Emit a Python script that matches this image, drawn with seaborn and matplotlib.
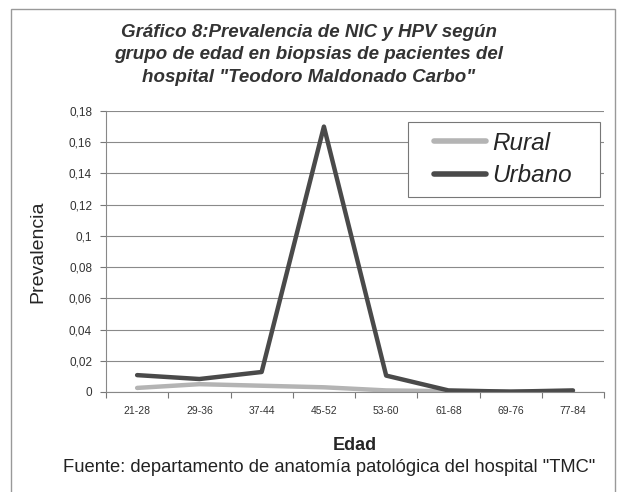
import pandas as pd
import seaborn as sns
import matplotlib.pyplot as plt
from matplotlib.patches import Rectangle
from matplotlib.ticker import FuncFormatter

# age groups and prevalence
edades = ['21-28', '29-36', '37-44', '45-52', '53-60', '61-68', '69-76', '77-84']
rural = [0.0026, 0.0050, 0.0040, 0.0030, 0.0010, 0.0005, 0.0003, 0.0005]
urbano = [0.0108, 0.0083, 0.0128, 0.1700, 0.0105, 0.0010, 0.0002, 0.0010]
yticks = [0, 0.02, 0.04, 0.06, 0.08, 0.10, 0.12, 0.14, 0.16, 0.18]

df = pd.DataFrame({
    'Edad': edades * 2,
    'Prevalencia': rural + urbano,
    'Zona': ['Rural'] * len(edades) + ['Urbano'] * len(edades),
})
df['pos'] = list(range(len(edades))) * 2

sns.set_style('white')
plt.rcParams['font.family'] = ['Liberation Sans', 'DejaVu Sans']

fig = plt.figure(figsize=(6.18, 4.92), dpi=100)
ax = fig.add_axes([0.1715, 0.2033, 0.806, 0.5711])

sns.lineplot(data=df, x='pos', y='Prevalencia', hue='Zona',
             palette={'Rural': '#b4b4b4', 'Urbano': '#4a4a4a'},
             linewidth=3.2, sort=False, ax=ax)

ax.set_xlim(-0.5, len(edades) - 0.5)
ax.set_ylim(0, 0.18)
ax.set_yticks(yticks)
ax.yaxis.set_major_formatter(FuncFormatter(lambda v, p: ('%g' % round(v, 2)).replace('.', ',')))
ax.set_xticks([i + 0.5 for i in range(-1, len(edades))])
ax.set_xticklabels([])
ax.set_xticks(range(len(edades)), minor=True)
ax.set_xticklabels(edades, minor=True, fontsize=7.5, color='#333333')
ax.tick_params(axis='x', which='major', length=4, direction='out', color='#777777', bottom=True)
ax.tick_params(axis='x', which='minor', length=0, pad=10)
ax.tick_params(axis='y', length=4, direction='out', color='#777777', left=True,
               labelsize=8.5, labelcolor='#333333', pad=6)
ax.grid(axis='y', color='#8a8a8a', linewidth=0.8)
for s in ['top', 'right']:
    ax.spines[s].set_visible(False)
for s in ['left', 'bottom']:
    ax.spines[s].set_color('#888888')
    ax.spines[s].set_linewidth(0.8)

ax.set_xlabel('Edad', fontsize=13, fontweight='bold', labelpad=15)
ax.set_ylabel('Prevalencia', fontsize=14, labelpad=16)

# legend without its own frame, box drawn separately to get Excel-like padding
leg = ax.legend(loc='upper left', bbox_to_anchor=(0.658, 0.927), borderaxespad=0,
                frameon=False, prop={'style': 'italic', 'size': 17.5},
                handlelength=2.15, borderpad=0, labelspacing=0.4, handletextpad=0.25)
for line in leg.get_lines():
    line.set_linewidth(4)
ax.add_patch(Rectangle((0.606, 0.694), 0.386, 0.268, transform=ax.transAxes,
                       fill=True, facecolor='white', edgecolor='#777777',
                       linewidth=0.8, zorder=4))
leg.set_zorder(5)

fig.text(0.50, 0.952, 'Gráfico 8:Prevalencia de NIC y HPV según\n'
         'grupo de edad en biopsias de pacientes del\n'
         'hospital "Teodoro Maldonado Carbo"',
         ha='center', va='top', fontsize=13.5, fontweight='bold', style='italic',
         color='#333333', linespacing=1.45)
fig.text(0.532, 0.05, 'Fuente: departamento de anatomía patológica del hospital "TMC"',
         ha='center', va='center', fontsize=13.2, color='#222222')

fig.add_artist(Rectangle((0.018, -0.02), 0.977, 1.0017, transform=fig.transFigure,
                         fill=False, edgecolor='#999999', linewidth=1))

plt.savefig('out.png', dpi=100)
